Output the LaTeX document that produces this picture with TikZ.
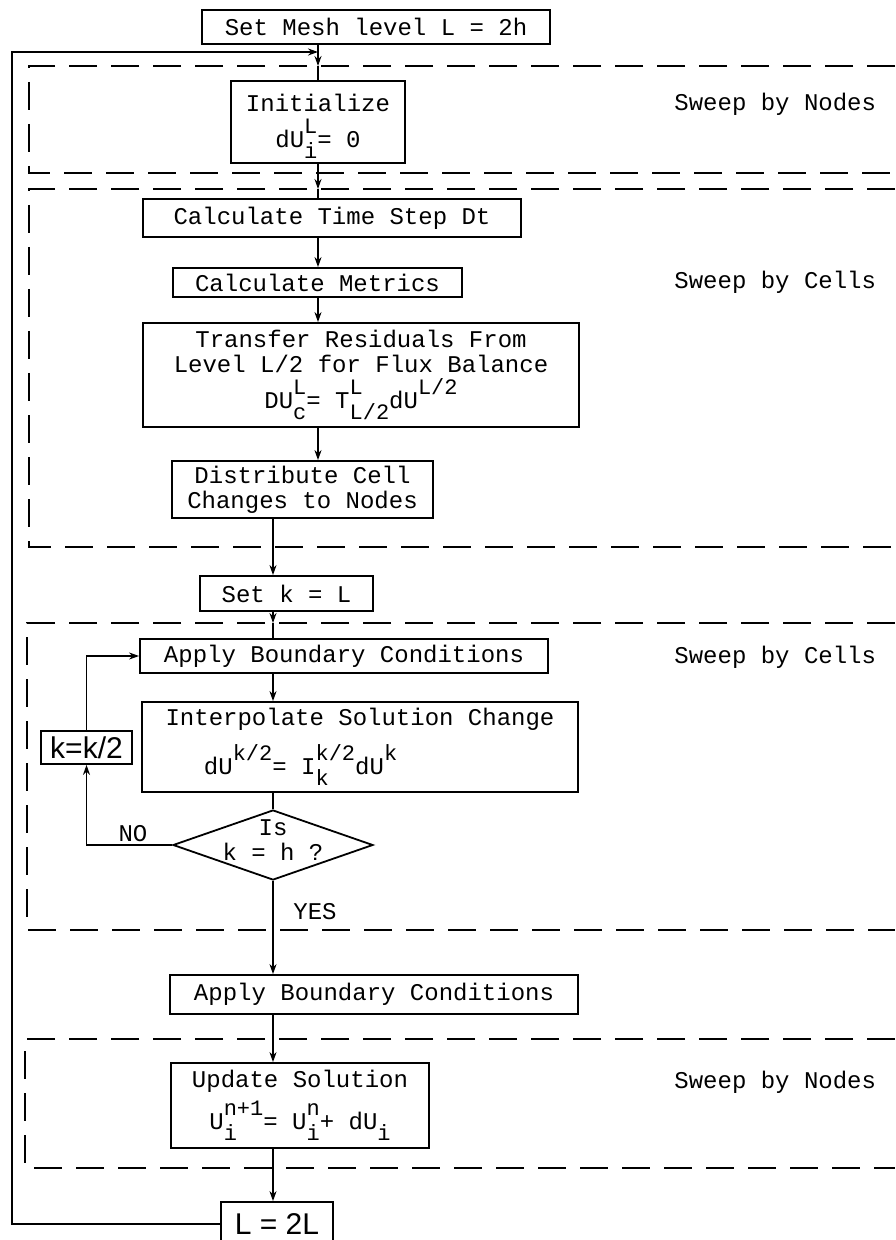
\documentclass[tikz,border=0pt]{standalone}
\usepackage{fontspec}
\setmonofont{Liberation Mono}
\newfontfamily\bigsans{Liberation Sans}
\usetikzlibrary{arrows.meta,shapes.geometric}

% stacked super- and subscript, typewriter style
\newcommand{\ix}[2]{\ooalign{\raisebox{7pt}{\fontsize{11}{11}\selectfont #1}\cr\raisebox{-5.5pt}{\fontsize{11}{11}\selectfont #2}\cr}}

\begin{document}
\begin{tikzpicture}[x=0.5pt,y=-0.5pt,
  box/.style={draw,line width=0.9pt,align=center,inner sep=2pt,
    font=\ttfamily\fontsize{12}{12.5}\selectfont},
  bigbox/.style={draw,line width=0.9pt,inner sep=2pt,
    font=\bigsans\fontsize{15}{15}\selectfont},
  test/.style={draw,line width=0.9pt,shape=diamond,inner sep=0pt,
    font=\ttfamily\fontsize{12}{12.5}\selectfont},
  note/.style={font=\ttfamily\fontsize{12}{12.5}\selectfont,inner sep=1pt},
  sweep/.style={line width=0.9pt,dash pattern=on 14pt off 7pt},
  arr/.style={line width=0.8pt,-{Stealth[length=5pt,width=3.5pt]}},
  line/.style={line width=0.8pt}]
\useasboundingbox (0,0) rectangle (895,1240);

% sweep regions
\draw[sweep] (895,66) -| (29,173) -- (895,173);
\draw[sweep] (895,189) -| (29,547) -- (895,547);
\draw[sweep] (895,623) -| (27,930) -- (895,930);
\draw[sweep] (895,1039) -| (25,1168) -- (895,1168);

\node[note,anchor=west] (sweep1) at (672,104) {Sweep by Nodes};
\node[note,anchor=west] (sweep2) at (672,282) {Sweep by Cells};
\node[note,anchor=west] (sweep3) at (672,657) {Sweep by Cells};
\node[note,anchor=west] (sweep4) at (672,1082) {Sweep by Nodes};

% boxes
\node[box,minimum width=174pt,minimum height=17pt] (mesh) at (376,27) {Set Mesh level L = 2h};
\node[box,minimum width=87pt,minimum height=40pt] (init) at (318,122) {\rule{0pt}{13pt}Initialize\\[3pt] dU\ix{L}{i}= 0};
\node[box,minimum width=189pt,minimum height=19pt] (tstep) at (332,218) {Calculate Time Step Dt};
\node[box,minimum width=144.5pt,minimum height=14.5pt] (metric) at (317.5,282.5) {Calculate Metrics};
\node[box,minimum width=218pt,minimum height=52pt] (transfer) at (361,375) {Transfer Residuals From\\Level L/2 for Flux Balance\\[2pt] DU\ix{L}{c}= T\ix{L}{L/2}dU\ix{L/2}{}};
\node[box,minimum width=130.5pt,minimum height=28.5pt] (distrib) at (302.5,489.5) {Distribute Cell\\Changes to Nodes};
\node[box,minimum width=86.5pt,minimum height=17.5pt] (setk) at (286.5,593.5) {Set k = L};
\node[box,minimum width=204pt,minimum height=17pt] (abc1) at (344,656) {Apply Boundary Conditions};
\node[box,align=left,minimum width=218pt,minimum height=45pt] (interp) at (360,747) {Interpolate Solution Change\\[6pt] \hspace{1.6em}dU\ix{k/2}{}= I\ix{k/2}{k}dU\ix{k}{}};
\node[test,minimum width=100pt,minimum height=35pt] (test) at (273,845) {\makebox[30pt]{\smash{\raisebox{-2pt}{\begin{tabular}{@{}c@{}}Is\\k = h ?\end{tabular}}}}};
\node[bigbox,minimum width=45.5pt,minimum height=16.5pt] (halve) at (86.5,747.5) {k=k/2};
\node[box,minimum width=204pt,minimum height=19.5pt] (abc2) at (374,994.5) {Apply Boundary Conditions};
\node[box,minimum width=129pt,minimum height=42.5pt] (update) at (300,1105.5) {Update Solution\\[3pt] U\ix{n+1}{i}= U\ix{n}{i}+ dU\ix{}{i}};
\node[bigbox,minimum width=56pt,minimum height=22pt] (double) at (277,1224) {L = 2L};

\node[note] (no) at (133,834) {NO};
\node[note] (yes) at (315,912) {YES};

% main flow
\coordinate (in1) at (318,66);
\coordinate (in2) at (318,189);
\coordinate (in3) at (273,623);
\coordinate (loop) at (12,52);
\coordinate (entry) at (318,52);

\draw[arr] (mesh.south -| in1) -- (in1);
\draw[line] (in1) -- (init.north -| in1);
\draw[arr] (init.south -| in2) -- (in2);
\draw[line] (in2) -- (tstep.north -| in2);
\draw[arr] (tstep.south -| in2) -- (metric.north -| in2);
\draw[arr] (metric.south -| in2) -- (transfer.north -| in2);
\draw[arr] (transfer.south -| in2) -- (distrib.north -| in2);
\draw[arr] (distrib.south -| in3) -- (setk.north -| in3);
\draw[arr] (setk.south -| in3) -- (in3);
\draw[line] (in3) -- (abc1.north -| in3);
\draw[arr] (abc1.south -| in3) -- (interp.north -| in3);
\draw[line] (interp.south -| in3) -- (test.north);
\draw[arr] (test.south) -- (abc2.north -| in3);
\draw[arr] (abc2.south -| in3) -- (update.north -| in3);
\draw[arr] (update.south -| in3) -- (double.north -| in3);

% inner loop over k
\draw[arr] (test.west) -| (halve.south);
\draw[arr] (halve.north) |- (abc1.west);

% outer loop over L
\draw[arr] (double.west) -| (loop) -- (entry);
\end{tikzpicture}
\end{document}
